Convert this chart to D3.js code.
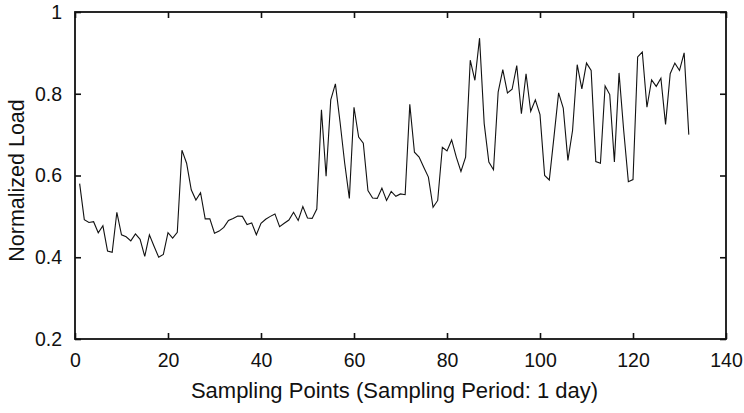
<!DOCTYPE html>
<html>
<head>
<meta charset="utf-8">
<script src="https://cdn.jsdelivr.net/npm/d3@7"></script>
<style>
  html, body { margin: 0; padding: 0; background: #fff; }
  svg { display: block; font-family: "Liberation Sans", Arial, Helvetica, sans-serif; }
</style>
</head>
<body>
<svg id="chart" width="744" height="413"></svg>
<script>
// Daily normalized load, one value per sampling point (1..132)
const loadValues = [
  0.580, 0.492, 0.485, 0.487, 0.460, 0.477, 0.415, 0.412, 0.510, 0.455,
  0.450, 0.440, 0.457, 0.444, 0.402, 0.455, 0.427, 0.400, 0.407, 0.460,
  0.447, 0.461, 0.662, 0.630, 0.565, 0.540, 0.558, 0.494, 0.494, 0.459,
  0.464, 0.473, 0.490, 0.495, 0.501, 0.500, 0.480, 0.484, 0.455, 0.483,
  0.493, 0.500, 0.506, 0.475, 0.483, 0.491, 0.510, 0.490, 0.524, 0.496,
  0.495, 0.518, 0.761, 0.598, 0.785, 0.824, 0.731, 0.630, 0.544, 0.767,
  0.694, 0.679, 0.563, 0.545, 0.544, 0.569, 0.539, 0.561, 0.549, 0.555,
  0.553, 0.774, 0.657, 0.645, 0.620, 0.596, 0.522, 0.539, 0.669, 0.660,
  0.687, 0.645, 0.610, 0.645, 0.882, 0.833, 0.936, 0.727, 0.633, 0.614,
  0.804, 0.859, 0.802, 0.811, 0.869, 0.751, 0.849, 0.757, 0.785, 0.749,
  0.600, 0.589, 0.694, 0.802, 0.765, 0.637, 0.710, 0.871, 0.812, 0.875,
  0.857, 0.634, 0.630, 0.819, 0.798, 0.633, 0.851, 0.710, 0.585, 0.590,
  0.890, 0.902, 0.767, 0.834, 0.818, 0.838, 0.725, 0.849, 0.875, 0.857,
  0.900, 0.700
];
const samplePoints = loadValues.map((_, i) => i + 1);

const xTicks = [0, 20, 40, 60, 80, 100, 120, 140];
const yTicks = [0.2, 0.4, 0.6, 0.8, 1];
const xDomain = [0, 140];
const yDomain = [0.2, 1];
const xLabel = "Sampling Points (Sampling Period: 1 day)";
const yLabel = "Normalized Load";

const margin = { top: 12, right: 18, bottom: 74, left: 75 };
const width = 744, height = 413;
const innerW = width - margin.left - margin.right;
const innerH = height - margin.top - margin.bottom;

const svg = d3.select("#chart");
const g = svg.append("g").attr("transform", `translate(${margin.left},${margin.top})`);

const x = d3.scaleLinear().domain(xDomain).range([0, innerW]);
const y = d3.scaleLinear().domain(yDomain).range([innerH, 0]);

const tickLen = 6;
const fmtY = d => (d === 1 ? "1" : d3.format(".1f")(d));

// Load curve
const line = d3.line()
  .x((d, i) => x(samplePoints[i]))
  .y(d => y(d));

g.append("path")
  .datum(loadValues)
  .attr("fill", "none")
  .attr("stroke", "#111")
  .attr("stroke-width", 1.1)
  .attr("stroke-linejoin", "miter")
  .attr("d", line);

// Axes: labelled bottom/left, mirrored ticks top/right, all pointing inward
function styleAxis(sel) {
  sel.select(".domain").remove();
  sel.selectAll(".tick line").attr("stroke", "#111").attr("stroke-width", 1.6);
  sel.selectAll(".tick text")
    .attr("fill", "#111")
    .style("font-size", "19.5px");
}

const axisB = g.append("g")
  .attr("transform", `translate(0,${innerH})`)
  .call(d3.axisBottom(x).tickValues(xTicks).tickSizeInner(-tickLen).tickSizeOuter(0).tickPadding(10));
styleAxis(axisB);
axisB.selectAll(".tick text").attr("dy", "0.9em");

const axisL = g.append("g")
  .call(d3.axisLeft(y).tickValues(yTicks).tickFormat(fmtY).tickSizeInner(-tickLen).tickSizeOuter(0).tickPadding(13));
styleAxis(axisL);

const axisT = g.append("g")
  .call(d3.axisTop(x).tickValues(xTicks).tickSizeInner(-tickLen).tickSizeOuter(0).tickFormat(""));
styleAxis(axisT);

const axisR = g.append("g")
  .attr("transform", `translate(${innerW},0)`)
  .call(d3.axisRight(y).tickValues(yTicks).tickSizeInner(-tickLen).tickSizeOuter(0).tickFormat(""));
styleAxis(axisR);

// Frame
g.append("rect")
  .attr("x", 0).attr("y", 0)
  .attr("width", innerW).attr("height", innerH)
  .attr("fill", "none")
  .attr("stroke", "#111")
  .attr("stroke-width", 1.8);

// Axis titles
svg.append("text")
  .attr("x", margin.left + innerW / 2 - 6)
  .attr("y", 398)
  .attr("text-anchor", "middle")
  .attr("fill", "#111")
  .style("font-size", "22px")
  .text(xLabel);

svg.append("text")
  .attr("transform", `translate(24,${margin.top + innerH / 2 + 5}) rotate(-90)`)
  .attr("text-anchor", "middle")
  .attr("fill", "#111")
  .style("font-size", "21.5px")
  .text(yLabel);
</script>
</body>
</html>
